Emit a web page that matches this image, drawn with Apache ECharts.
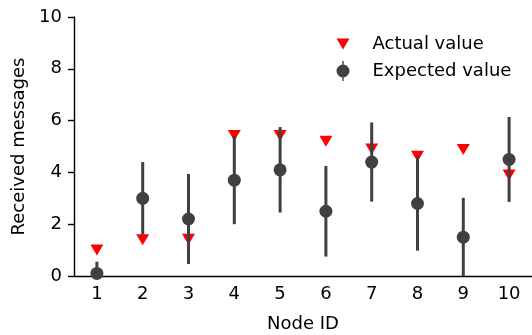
<!DOCTYPE html>
<html>
<head>
<meta charset="utf-8">
<script src="https://cdn.jsdelivr.net/npm/echarts@6/dist/echarts.min.js"></script>
<style>html,body{margin:0;padding:0;background:#fff}#c{width:532px;height:335px}</style>
</head>
<body>
<div id="c"></div>
<script>
const nodeIds = ['1','2','3','4','5','6','7','8','9','10'];
const actualValues = [1.0, 1.4, 1.42, 5.42, 5.42, 5.2, 4.9, 4.62, 4.88, 3.9];
const expectedValues = [0.1, 3.0, 2.2, 3.7, 4.1, 2.5, 4.4, 2.8, 1.5, 4.5];
const expectedErrors = [0.45, 1.4, 1.74, 1.7, 1.65, 1.75, 1.53, 1.82, 1.52, 1.64];
const yTicks = [0, 2, 4, 6, 8, 10];

const FONT = 'DejaVu Sans';
const DARK = '#404040';
const RED = '#ff0000';
const triPath = 'path://M0,0 L13,0 L6.5,11 Z';
const expIcon = 'path://M6.5,3.5 A6.5,6.5 0 1 1 6.49,3.5 Z M5.8,0 H7.2 V20 H5.8 Z';

const chart = echarts.init(document.getElementById('c'), null, {renderer: 'canvas'});
chart.setOption({
  animation: false,
  textStyle: {fontFamily: FONT},
  grid: {left: 74, right: 0, top: 17, bottom: 59, containLabel: false, outerBoundsMode: 'none'},
  legend: {
    orient: 'vertical',
    left: 331.5,
    top: 29,
    itemWidth: 13,
    itemHeight: 20,
    itemGap: 7,
    textStyle: {fontFamily: FONT, fontSize: 18, lineHeight: 20, color: '#000', padding: [0, 0, 0, 18]},
    data: [
      {name: 'Actual value', icon: triPath, itemStyle: {color: RED}},
      {name: 'Expected value', icon: expIcon, itemStyle: {color: DARK}}
    ]
  },
  xAxis: {
    type: 'category',
    data: nodeIds,
    boundaryGap: true,
    name: 'Node ID',
    nameLocation: 'middle',
    nameGap: 39,
    nameTextStyle: {fontFamily: FONT, fontSize: 18, color: '#000'},
    axisLine: {lineStyle: {color: '#000', width: 1.4}},
    axisTick: {alignWithLabel: true, length: 6, lineStyle: {color: '#000', width: 1.4}},
    axisLabel: {fontFamily: FONT, fontSize: 18, color: '#000', margin: 9},
    splitLine: {show: false}
  },
  yAxis: {
    type: 'value',
    min: yTicks[0],
    max: yTicks[yTicks.length - 1],
    interval: 2,
    name: 'Received messages',
    nameLocation: 'middle',
    nameGap: 43,
    nameTextStyle: {fontFamily: FONT, fontSize: 18, color: '#000'},
    axisLine: {show: true, lineStyle: {color: '#000', width: 1.4}},
    axisTick: {show: true, length: 6, lineStyle: {color: '#000', width: 1.4}},
    axisLabel: {fontFamily: FONT, fontSize: 18, color: '#000', margin: 12},
    splitLine: {show: false}
  },
  series: [
    {
      name: 'Actual value',
      type: 'scatter',
      z: 2,
      symbol: triPath,
      symbolSize: [13, 11],
      itemStyle: {color: RED, opacity: 1},
      data: actualValues
    },
    {
      name: 'Expected error',
      type: 'custom',
      z: 3,
      clip: true,
      data: expectedValues.map((v, i) => [i, v - expectedErrors[i], v + expectedErrors[i]]),
      renderItem: function (params, api) {
        const lo = api.coord([api.value(0), api.value(1)]);
        const hi = api.coord([api.value(0), api.value(2)]);
        const cs = params.coordSys;
        const bottom = cs.y + cs.height;
        return {
          type: 'line',
          shape: {x1: lo[0], y1: Math.min(lo[1], bottom), x2: hi[0], y2: Math.max(hi[1], cs.y)},
          style: {stroke: DARK, lineWidth: 3}
        };
      }
    },
    {
      name: 'Expected value',
      type: 'scatter',
      z: 4,
      symbol: 'circle',
      symbolSize: 13,
      clip: true,
      itemStyle: {color: DARK, opacity: 1},
      data: expectedValues
    }
  ]
});
</script>
</body>
</html>
